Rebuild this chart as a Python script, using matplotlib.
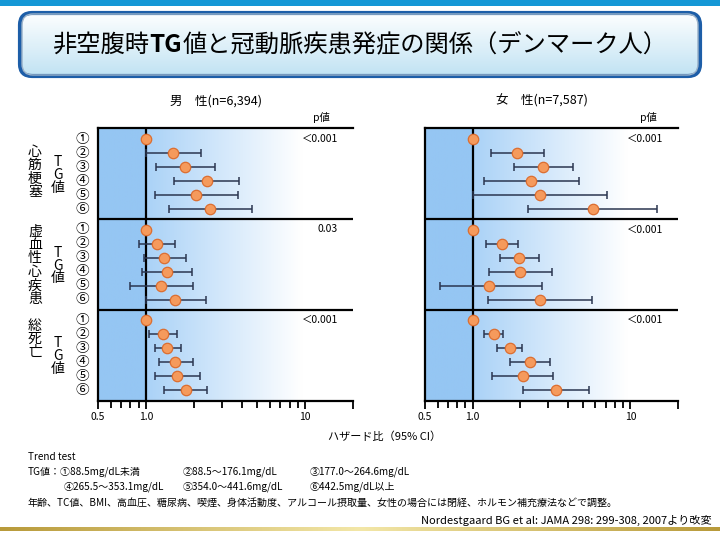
import numpy as np
import matplotlib
matplotlib.use('Agg')
import matplotlib.pyplot as plt
from matplotlib.patches import FancyBboxPatch, Rectangle
from matplotlib.colors import to_rgb

plt.rcParams['font.family'] = ['Noto Sans CJK JP', 'DejaVu Sans']

# ---- data (hazard ratios, 95% CI) ----
groups = ['心筋梗塞', '虚血性心疾患', '総死亡']
tg_labels = ['①', '②', '③', '④', '⑤', '⑥']
men_hr = [[1.0, 1.49, 1.75, 2.41, 2.06, 2.53],
          [1.0, 1.17, 1.30, 1.35, 1.24, 1.53],
          [1.0, 1.28, 1.36, 1.53, 1.56, 1.78]]
men_lo = [[1.0, 1.00, 1.15, 1.51, 1.14, 1.40],
          [1.0, 0.91, 0.97, 0.95, 0.79, 1.00],
          [1.0, 1.05, 1.14, 1.21, 1.14, 1.30]]
men_hi = [[1.0, 2.23, 2.70, 3.86, 3.81, 4.64],
          [1.0, 1.53, 1.78, 1.95, 1.99, 2.40],
          [1.0, 1.56, 1.67, 1.98, 2.18, 2.43]]
women_hr = [[1.0, 1.92, 2.81, 2.36, 2.68, 5.78],
            [1.0, 1.53, 1.97, 1.99, 1.27, 2.68],
            [1.0, 1.37, 1.72, 2.32, 2.10, 3.40]]
women_lo = [[1.0, 1.31, 1.84, 1.18, 1.00, 2.25],
            [1.0, 1.21, 1.50, 1.27, 0.62, 1.26],
            [1.0, 1.19, 1.42, 1.72, 1.33, 2.09]]
women_hi = [[1.0, 2.84, 4.34, 4.73, 7.15, 14.8],
            [1.0, 1.93, 2.63, 3.19, 2.75, 5.72],
            [1.0, 1.57, 2.06, 3.09, 3.22, 5.45]]
men_p = ['＜0.001', '0.03', '＜0.001']
women_p = ['＜0.001', '＜0.001', '＜0.001']
panel_titles = ['男　性(n=6,394)', '女　性(n=7,587)']

W, H = 720, 540
fig = plt.figure(figsize=(7.2, 5.4), dpi=100)
fig.patch.set_facecolor('white')


def fx(x):
    return x / W


def fy(y):
    return 1 - y / H


# ---- header decorations ----
bg = fig.add_axes([0, 0, 1, 1], zorder=-5)
bg.set_xlim(0, W)
bg.set_ylim(H, 0)
bg.axis('off')
bg.add_patch(Rectangle((0, 0), W, 6, color='#1598d6', lw=0))
grad = np.linspace(0, 1, 64)[:, None]
c_top, c_bot = np.array(to_rgb('#ffffff')), np.array(to_rgb('#bfe2f3'))
img = (c_top[None, None, :] * (1 - grad[..., None]) + c_bot[None, None, :] * grad[..., None])
img = np.repeat(img, 2, axis=1)
box = FancyBboxPatch((20, 13), 680, 63, boxstyle='round,pad=0,rounding_size=12',
                     fc='none', ec='#1d5ea8', lw=3)
bg.add_patch(box)
im = bg.imshow(img, extent=(16, 704, 78, 11), aspect='auto', zorder=0)
im.set_clip_path(box)
bg.add_patch(FancyBboxPatch((22, 14), 676, 61, boxstyle='round,pad=0,rounding_size=11',
                            fc='none', ec='#9db3c9', lw=1))
gold = np.linspace(0, 1, 256)
gcol = np.array([to_rgb('#b89a3a'), to_rgb('#f3e7a8'), to_rgb('#b89a3a')])
gimg = np.stack([np.interp(gold, [0, 0.5, 1], gcol[:, k]) for k in range(3)], axis=-1)[None]
bg.imshow(gimg, extent=(0, W, 531, 527), aspect='auto', zorder=0)

# title with bold TG, centred as a whole
tfs = 17.5
t1 = fig.text(0, fy(45), '非空腹時', fontsize=tfs, va='center', ha='left')
t2 = fig.text(0, fy(45), 'TG', fontsize=tfs, fontweight='bold', va='center', ha='left')
t3 = fig.text(0, fy(45), '値と冠動脈疾患発症の関係（デンマーク人）', fontsize=tfs,
              va='center', ha='left')
fig.canvas.draw()
r = fig.canvas.get_renderer()
w1 = t1.get_window_extent(r).width
w2 = t2.get_window_extent(r).width
w3 = t3.get_window_extent(r).width
x_start = 360 - (w1 + w2 + w3) / 2
t1.set_position((fx(x_start), fy(45)))
t2.set_position((fx(x_start + w1), fy(45)))
t3.set_position((fx(x_start + w1 + w2), fy(45)))

# ---- panels ----
row_y = []
for g in range(3):
    row_y.append([11 + g * 90.5 + i * 14 for i in range(6)])
row_y = np.array(row_y)

panel_x = [(98, 353), (425, 678)]
datasets = [(men_hr, men_lo, men_hi, men_p), (women_hr, women_lo, women_hi, women_p)]

# background gradient (blue -> white) in axes coords
fr = np.linspace(0, 1, 400)
split = np.log10(2) / np.log10(40)
c_dark = np.array(to_rgb('#95c6f3'))
c_light = np.array(to_rgb('#aad2f7'))
white = np.ones(3)
panel_img = np.zeros((1, 400, 3))
for k, f in enumerate(fr):
    if f < split:
        panel_img[0, k] = c_dark
    else:
        t = min((f - split) / (0.8 - split), 1.0)
        panel_img[0, k] = c_light * (1 - t) + white * t

for p, (x0, x1) in enumerate(panel_x):
    hr, lo, hi, pv = datasets[p]
    ax = fig.add_axes([fx(x0), fy(401), (x1 - x0) / W, 273 / H])
    ax.set_xscale('log')
    ax.set_xlim(0.5, 20)
    ax.set_ylim(273, 0)
    ax.imshow(panel_img, extent=(0, 1, 0, 1), transform=ax.transAxes,
              aspect='auto', zorder=0)
    ax.axvline(1.0, color='black', lw=1.6, zorder=2)
    ax.axhline(91, color='black', lw=1.6, zorder=2)
    ax.axhline(182, color='black', lw=1.6, zorder=2)
    for g in range(3):
        h = np.array(hr[g])
        l = np.array(lo[g])
        u = np.array(hi[g])
        ax.errorbar(h[1:], row_y[g][1:], xerr=[h[1:] - l[1:], u[1:] - h[1:]], fmt='none',
                    ecolor='#2b3650', elinewidth=1.1, capsize=3, capthick=1.1, zorder=3)
        ax.plot(h, row_y[g], 'o', ms=7.5, mfc='#f59a5c', mec='#dc6e30', mew=0.9, zorder=4)
        ax.text(0.94, row_y[g][0], pv[g], transform=ax.get_yaxis_transform(),
                ha='right', va='center', fontsize=7.5)
    ax.set_xticks([0.5, 1, 10, 20])
    ax.set_xticklabels(['0.5', '1.0', '10', ''], fontsize=7.5)
    ax.set_xticks([0.6, 0.7, 0.8, 0.9, 2, 3, 4, 5, 6, 7, 8, 9], minor=True)
    ax.xaxis.set_minor_formatter(plt.NullFormatter())
    ax.tick_params(axis='x', which='major', length=6, width=1.3, pad=2)
    ax.tick_params(axis='x', which='minor', length=5, width=1.3)
    ax.set_yticks([])
    for s in ['top', 'left', 'bottom']:
        ax.spines[s].set_linewidth(1.6)
    ax.spines['right'].set_visible(False)
    fig.text(fx(x0 + 223), fy(117), 'p値', ha='center', va='center', fontsize=7.5)
    fig.text(fx((x0 + x1) / 2 - 10), fy(101), panel_titles[p], ha='center',
             va='center', fontsize=9)

# ---- left labels ----
row_px = row_y + 128
label_centers = [172, 265, 339]
for g in range(3):
    fig.text(fx(35), fy(label_centers[g]), '\n'.join(groups[g]), ha='center',
             va='center', fontsize=10, linespacing=0.95)
    fig.text(fx(58), fy(row_px[g][0] + 36), 'T\nG\n値', ha='center', va='center',
             fontsize=10, linespacing=0.9)
    for i in range(6):
        fig.text(fx(82), fy(row_px[g][i]), tg_labels[i], ha='center', va='center',
                 fontsize=9.8)

fig.text(fx(385), fy(437), 'ハザード比（95% CI）', ha='center', va='center', fontsize=8)

# ---- footer ----
fs = 7.2
fig.text(fx(28), fy(457), 'Trend test', fontsize=fs, va='center')
fig.text(fx(28), fy(472), 'TG値：①88.5mg/dL未満', fontsize=fs, va='center')
fig.text(fx(183), fy(472), '②88.5～176.1mg/dL', fontsize=fs, va='center')
fig.text(fx(310), fy(472), '③177.0～264.6mg/dL', fontsize=fs, va='center')
fig.text(fx(64), fy(487), '④265.5～353.1mg/dL', fontsize=fs, va='center')
fig.text(fx(183), fy(487), '⑤354.0～441.6mg/dL', fontsize=fs, va='center')
fig.text(fx(310), fy(487), '⑥442.5mg/dL以上', fontsize=fs, va='center')
fig.text(fx(28), fy(504), '年齢、TC値、BMI、高血圧、糖尿病、喫煙、身体活動度、アルコール摂取量、'
         '女性の場合には閉経、ホルモン補充療法などで調整。', fontsize=fs, va='center')
fig.text(fx(712), fy(520), 'Nordestgaard BG et al: JAMA 298: 299-308, 2007より改変',
         fontsize=8, va='center', ha='right')

fig.savefig('out.png', dpi=100)
